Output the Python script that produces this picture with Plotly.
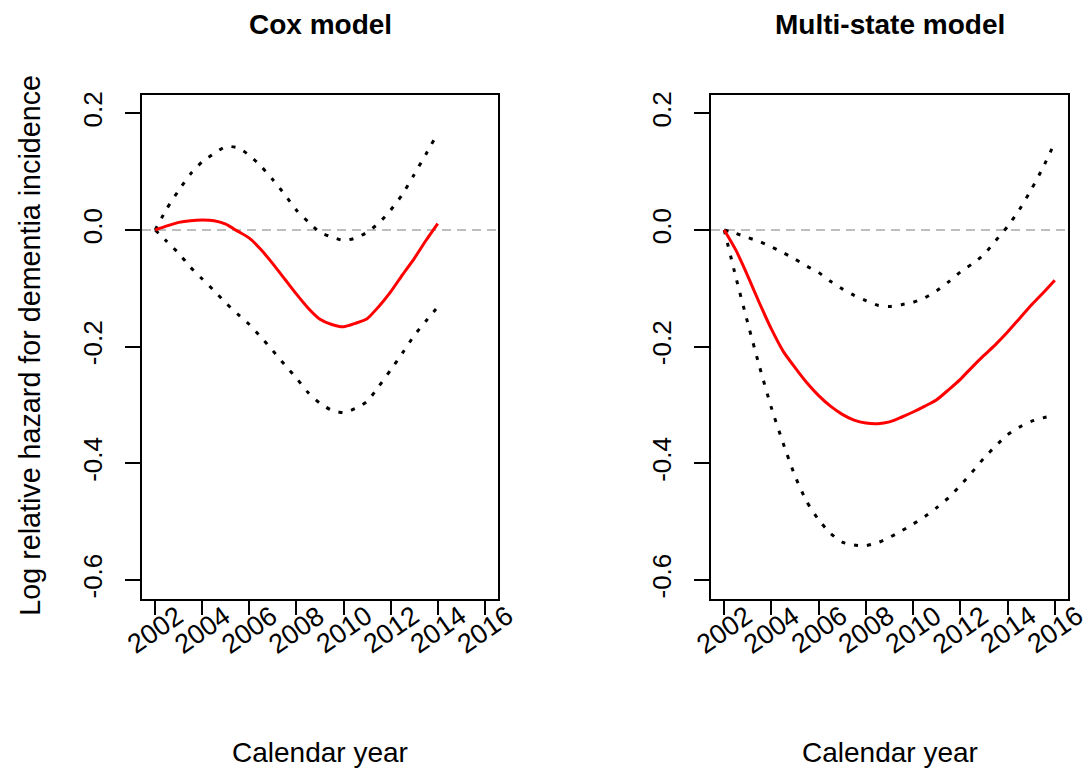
import plotly.graph_objects as go

# ---- data -----------------------------------------------------------------
years_cox = [2002.0, 2002.5, 2003.0, 2003.5, 2004.0, 2004.5, 2005.0, 2005.5,
             2006.0, 2006.5, 2007.0, 2007.5, 2008.0, 2008.5, 2009.0, 2009.5,
             2010.0, 2010.5, 2011.0, 2011.5, 2012.0, 2012.5, 2013.0, 2013.5,
             2014.0]
cox_est = [0.000, 0.007, 0.013, 0.016, 0.017, 0.016, 0.010, -0.002,
           -0.014, -0.034, -0.058, -0.084, -0.110, -0.134, -0.153, -0.162,
           -0.166, -0.160, -0.152, -0.131, -0.106, -0.077, -0.049, -0.018,
           0.011]
cox_upper = [0.000, 0.037, 0.068, 0.096, 0.117, 0.131, 0.143, 0.141,
             0.128, 0.109, 0.086, 0.061, 0.034, 0.014, -0.004, -0.012,
             -0.018, -0.014, -0.004, 0.012, 0.034, 0.061, 0.095, 0.130,
             0.166]
cox_lower = [0.000, -0.020, -0.040, -0.064, -0.084, -0.104, -0.125, -0.144,
             -0.162, -0.184, -0.207, -0.231, -0.254, -0.279, -0.297, -0.309,
             -0.313, -0.306, -0.294, -0.268, -0.240, -0.211, -0.181, -0.156,
             -0.132]

years_ms = [2002.0, 2002.5, 2003.0, 2003.5, 2004.0, 2004.5, 2005.0, 2005.5,
            2006.0, 2006.5, 2007.0, 2007.5, 2008.0, 2008.5, 2009.0, 2009.5,
            2010.0, 2010.5, 2011.0, 2011.5, 2012.0, 2012.5, 2013.0, 2013.5,
            2014.0, 2014.5, 2015.0, 2015.5, 2016.0]
ms_est = [0.000, -0.035, -0.079, -0.126, -0.170, -0.208, -0.236, -0.262,
          -0.284, -0.302, -0.316, -0.326, -0.331, -0.332, -0.329, -0.321,
          -0.312, -0.302, -0.291, -0.274, -0.256, -0.235, -0.215, -0.196,
          -0.175, -0.152, -0.129, -0.108, -0.086]
ms_upper = [0.000, -0.006, -0.013, -0.020, -0.029, -0.039, -0.050, -0.062,
            -0.073, -0.088, -0.101, -0.112, -0.121, -0.129, -0.131, -0.128,
            -0.124, -0.116, -0.104, -0.089, -0.072, -0.058, -0.042, -0.018,
            0.006, 0.035, 0.069, 0.107, 0.150]
ms_lower = [0.000, -0.082, -0.160, -0.235, -0.305, -0.366, -0.422, -0.466,
            -0.497, -0.520, -0.535, -0.540, -0.541, -0.536, -0.527, -0.516,
            -0.504, -0.491, -0.476, -0.459, -0.438, -0.415, -0.391, -0.370,
            -0.351, -0.338, -0.328, -0.322, -0.318]

x_ticks = [2002, 2004, 2006, 2008, 2010, 2012, 2014, 2016]
x_tick_labels = ["2002", "2004", "2006", "2008", "2010", "2012", "2014", "2016"]
y_ticks = [-0.6, -0.4, -0.2, 0.0, 0.2]
y_tick_labels = ["-0.6", "-0.4", "-0.2", "0.0", "0.2"]

panel_titles = ["Cox model", "Multi-state model"]
x_title = "Calendar year"
y_title = "Log relative hazard for dementia incidence"

# ---- figure geometry --------------------------------------------------------
W, H = 1091, 774
FONT = "Liberation Sans, Arial, sans-serif"
panels = [
    dict(x0=142, x1=498, xa="x", ya="y"),
    dict(x0=711, x1=1068, xa="x2", ya="y2"),
]
plot_top, plot_bottom = 92, 598

fig = go.Figure()

series = [
    (years_cox, cox_est, cox_upper, cox_lower),
    (years_ms, ms_est, ms_upper, ms_lower),
]

for p, (yrs, est, up, lo) in zip(panels, series):
    for band in (up, lo):
        fig.add_trace(go.Scatter(
            x=yrs, y=band, mode="lines", xaxis=p["xa"], yaxis=p["ya"],
            line=dict(color="black", width=3, dash="4px,9px",
                      shape="spline", smoothing=0.6),
            hoverinfo="skip", showlegend=False))
    fig.add_trace(go.Scatter(
        x=yrs, y=est, mode="lines", xaxis=p["xa"], yaxis=p["ya"],
        line=dict(color="#ff0000", width=3, shape="spline", smoothing=0.6),
        hoverinfo="skip", showlegend=False))

axis_common = dict(showgrid=False, zeroline=False, showline=True, mirror=True,
                   linecolor="black", linewidth=1.5, ticks="outside",
                   ticklen=15, tickwidth=1.5, tickcolor="black")

layout_axes = {}
for i, p in enumerate(panels):
    sfx = "" if i == 0 else str(i + 1)
    layout_axes["xaxis" + sfx] = dict(
        axis_common, domain=[p["x0"] / W, p["x1"] / W],
        range=[2001.44, 2016.56], tickvals=x_ticks, showticklabels=False,
        anchor="y" + sfx)
    layout_axes["yaxis" + sfx] = dict(
        axis_common, domain=[1 - plot_bottom / H, 1 - plot_top / H],
        range=[-0.632, 0.232], tickvals=y_ticks, ticktext=y_tick_labels,
        tickangle=-90, tickfont=dict(size=26, color="black", family=FONT),
        ticklabelstandoff=13, anchor="x" + sfx)

annotations = []
for i, p in enumerate(panels):
    xa = p["xa"]
    cx = (p["x0"] + p["x1"]) / 2 / W
    # rotated year labels under each axis
    for val, lab in zip(x_ticks, x_tick_labels):
        annotations.append(dict(
            x=val, xref=xa, y=1 - 629 / H, yref="paper", text=lab,
            textangle=-35, showarrow=False, xanchor="center",
            yanchor="middle", font=dict(size=27, color="black", family=FONT)))
    annotations.append(dict(
        x=cx, xref="paper", y=1 - 22 / H, yref="paper",
        text="<b>" + panel_titles[i] + "</b>", showarrow=False,
        xanchor="center", yanchor="middle",
        font=dict(size=28, color="black", family=FONT)))
    annotations.append(dict(
        x=cx, xref="paper", y=1 - 752 / H, yref="paper", text=x_title,
        showarrow=False, xanchor="center", yanchor="middle",
        font=dict(size=28, color="black", family=FONT)))

annotations.append(dict(
    x=30 / W, xref="paper", y=1 - 344 / H, yref="paper", text=y_title,
    textangle=-90, showarrow=False, xanchor="center", yanchor="middle",
    font=dict(size=28.7, color="black", family=FONT)))

# reference line at zero in each panel
shapes = []
for p in panels:
    shapes.append(dict(
        type="line", xref=p["xa"] + " domain", x0=0, x1=1,
        yref=p["ya"], y0=0, y1=0, layer="below",
        line=dict(color="#bebebe", width=2, dash="9px,6px")))

fig.update_layout(
    width=W, height=H, margin=dict(l=0, r=0, t=0, b=0),
    paper_bgcolor="white", plot_bgcolor="white",
    font=dict(family=FONT, color="black"),
    annotations=annotations, shapes=shapes, showlegend=False,
    **layout_axes)

fig.write_html("out.html")
